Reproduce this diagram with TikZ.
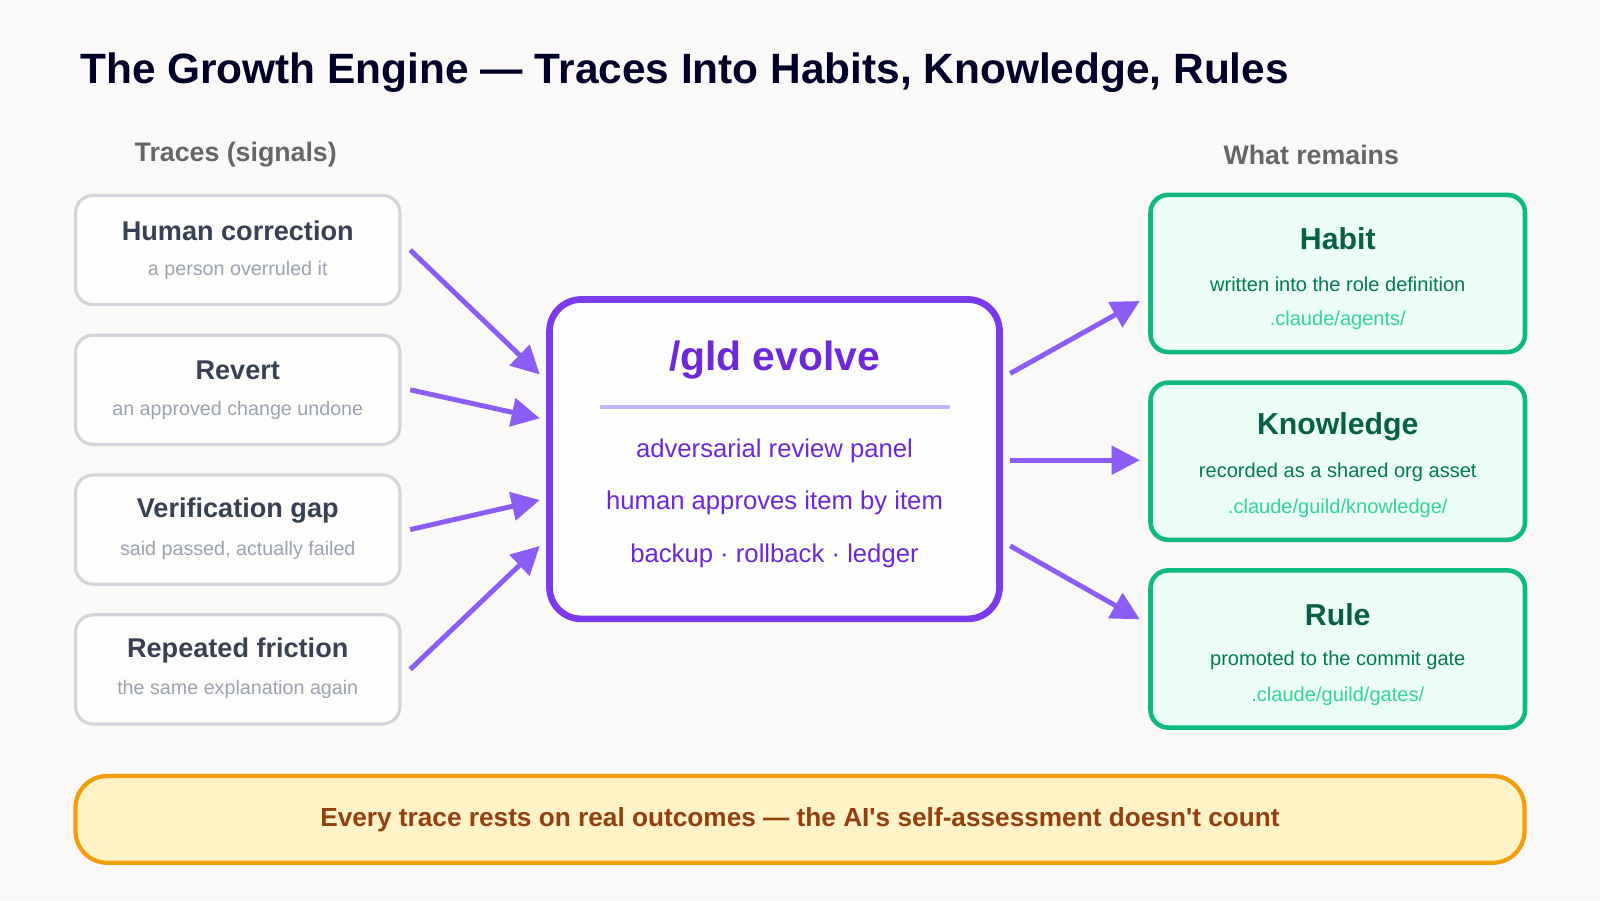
\documentclass[tikz,border=0pt]{standalone}
\usepackage{fontspec}
\setmainfont{Liberation Sans}
\usetikzlibrary{arrows.meta}
\newcommand{\px}{0.0102cm}
\definecolor{bgc}{HTML}{FAF9F7}
\definecolor{tracebd}{HTML}{D1D5DB}
\definecolor{tracett}{HTML}{374151}
\definecolor{tracesb}{HTML}{9CA3AF}
\definecolor{evo}{HTML}{7C3AED}
\definecolor{evotx}{HTML}{6D28D9}
\definecolor{evoln}{HTML}{C4B5FD}
\definecolor{arr}{HTML}{8B5CF6}
\definecolor{keepfill}{HTML}{ECFDF5}
\definecolor{keepbd}{HTML}{10B981}
\definecolor{keeptt}{HTML}{065F46}
\definecolor{keepsb}{HTML}{047857}
\definecolor{keeppath}{HTML}{34D399}
\definecolor{notefill}{HTML}{FEF3C7}
\definecolor{notebd}{HTML}{F59E0B}
\definecolor{notetx}{HTML}{92400E}
\begin{document}
\begin{tikzpicture}[x=\px, y=-\px,
    trace/.style={draw=tracebd, line width=0.9pt, fill=white!60!bgc, rounded corners=5pt, minimum width=318*\px, minimum height=107*\px, inner sep=0pt},
    keep/.style={draw=keepbd, line width=1.3pt, fill=keepfill, rounded corners=5pt, minimum width=367*\px, minimum height=154*\px, inner sep=0pt},
    flow/.style={draw=arr, line width=1.4pt, -{Triangle[length=8pt, width=8pt]}},
    head/.style={font=\bfseries\fontsize{7.6}{9}\selectfont, text=gray!80!black}]
    \fill[bgc] (0,0) rectangle (1568,882);
    \useasboundingbox (0,0) rectangle (1568,882);

    % Title
    \node[anchor=west, inner sep=0pt, font=\bfseries\fontsize{12.05}{14}\selectfont, text=black!85!blue] (title) at (78,71) {The Growth Engine — Traces Into Habits, Knowledge, Rules};
    \node[head] (lhead) at (231,152) {Traces (signals)};
    \node[head] (rhead) at (1285,152) {What remains};

    % Traces
    \foreach \name/\y/\ttl/\sub in {corr/245/Human correction/a person overruled it,
        rev/382/Revert/an approved change undone,
        gap/519/Verification gap/{said passed, actually failed},
        fric/656/Repeated friction/the same explanation again} {
        \node[trace] (\name) at (233,\y) {};
        \node[font=\bfseries\fontsize{7.7}{9}\selectfont, text=tracett] at (233,\y-19) {\ttl};
        \node[font=\fontsize{5.6}{7}\selectfont, text=tracesb] at (233,\y+20) {\sub};
        \coordinate (\name-out) at (402,\y);
    }

    % Engine
    \node[draw=evo, line width=1.9pt, fill=white!60!bgc, rounded corners=9pt, minimum width=441*\px, minimum height=313*\px] (evolve) at (759,450) {};
    \node[font=\bfseries\fontsize{11.6}{13}\selectfont, text=evotx] (evtitle) at (759,353) {/gld evolve};
    \draw[evoln, line width=1pt] (588,399) -- (931,399);
    \node[font=\fontsize{7.3}{9}\selectfont, text=evotx] (it1) at (759,442) {adversarial review panel};
    \node[font=\fontsize{7.3}{9}\selectfont, text=evotx] (it2) at (759,493) {human approves item by item};
    \node[font=\fontsize{7.3}{9}\selectfont, text=evotx] (it3) at (759,545) {backup · rollback · ledger};
    \coordinate (in1) at (529,367);
    \coordinate (in2) at (529,410);
    \coordinate (in3) at (529,490);
    \coordinate (in4) at (529,535);
    \coordinate (out1) at (990,366);
    \coordinate (out2) at (990,451);
    \coordinate (out3) at (990,535);

    % What remains
    \foreach \name/\y/\ttl/\sub/\where in {habit/268/Habit/written into the role definition/{.claude/agents/},
        know/452/Knowledge/recorded as a shared org asset/{.claude/guild/knowledge/},
        rule/636/Rule/promoted to the commit gate/{.claude/guild/gates/}} {
        \node[keep] (\name) at (1311,\y) {};
        \node[font=\bfseries\fontsize{8.6}{10}\selectfont, text=keeptt] at (1311,\y-34) {\ttl};
        \node[font=\fontsize{5.7}{7}\selectfont, text=keepsb] at (1311,\y+11) {\sub};
        \node[font=\fontsize{5.7}{7}\selectfont, text=keeppath] at (1311,\y+46) {\where};
    }
    \coordinate (habit-in) at (1117,295);
    \coordinate (know-in) at (1117,451);
    \coordinate (rule-in) at (1117,607);

    % Arrows
    \draw[flow] (corr-out) -- (in1);
    \draw[flow] (rev-out) -- (in2);
    \draw[flow] (gap-out) -- (in3);
    \draw[flow] (fric-out) -- (in4);
    \draw[flow] (out1) -- (habit-in);
    \draw[flow] (out2) -- (know-in);
    \draw[flow] (out3) -- (rule-in);

    % Footer
    \node[draw=notebd, line width=1.2pt, fill=notefill, rounded corners=9pt, minimum width=1420*\px, minimum height=85*\px, font=\bfseries\fontsize{7.45}{9}\selectfont, text=notetx] (note) at (784,803) {Every trace rests on real outcomes — the AI\textquotesingle s self-assessment doesn\textquotesingle t count};
\end{tikzpicture}
\end{document}
